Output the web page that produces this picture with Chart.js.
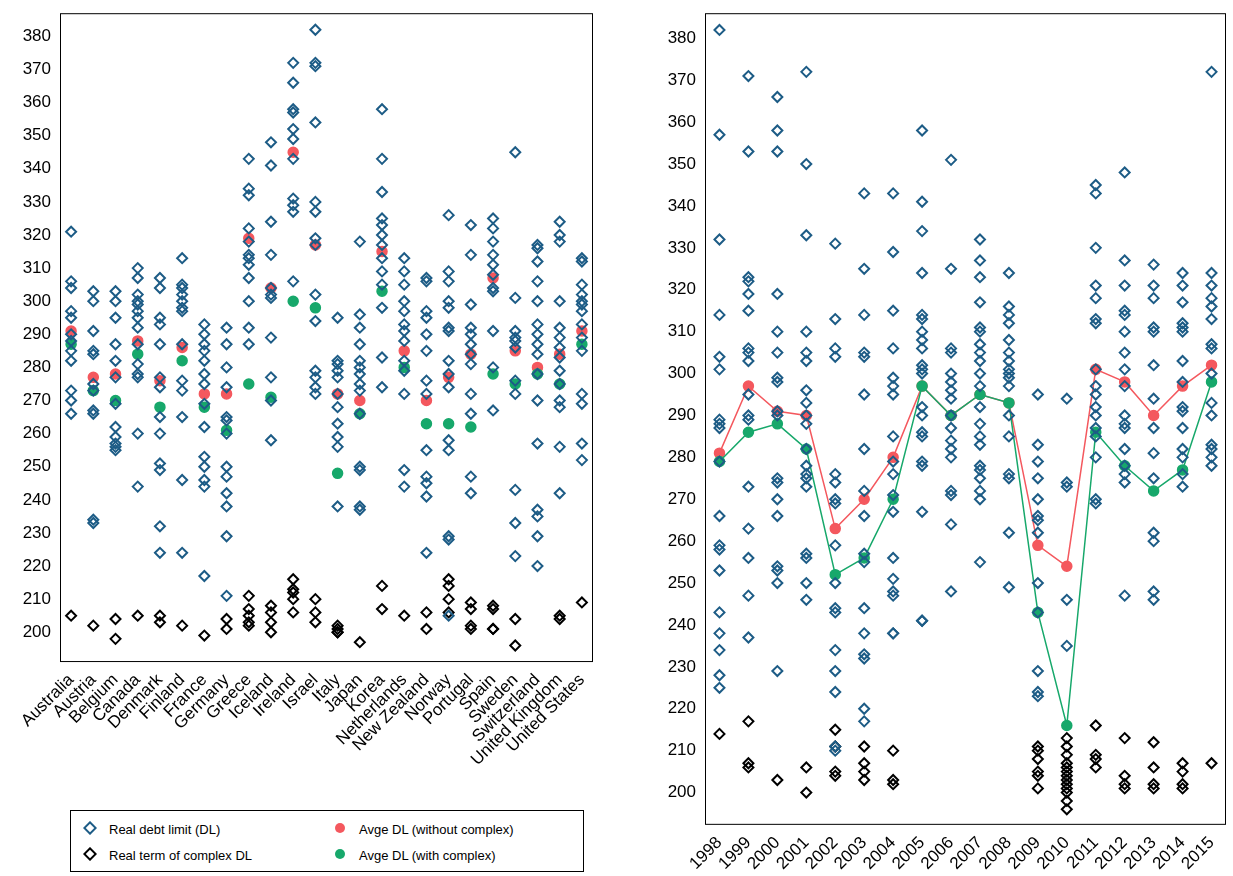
<!DOCTYPE html>
<html lang="en">
<head>
<meta charset="UTF-8">
<title>Debt limit by country and year</title>
<script src="https://cdn.jsdelivr.net/npm/chart.js"></script>
<style>
    body { margin: 0; background: #fff; font-family: "Liberation Sans", Arial, sans-serif; }
    #left { position: absolute; left: 0; top: 0; }
    #right { position: absolute; left: 655px; top: 0; }
    #legend {
        position: absolute; left: 70px; top: 810px; width: 514px; height: 62px;
        border: 1px solid #000; box-sizing: border-box; font-size: 13px;
    }
    .item { position: absolute; display: flex; align-items: center; }
    .item span.m { width: 22px; display: inline-block; text-align: center; margin-right: 8px; }
</style>
</head>
<body>
<canvas id="left" width="600" height="772"></canvas>
<canvas id="right" width="578" height="876"></canvas>
<div id="legend">
    <div class="item" style="left:8px;top:10px"><span class="m"><svg width="14" height="14"><rect x="3" y="3" width="8" height="8" transform="rotate(45 7 7)" fill="none" stroke="#1d5c86" stroke-width="2"/></svg></span>Real debt limit (DL)</div>
    <div class="item" style="left:8px;top:36px"><span class="m"><svg width="14" height="14"><rect x="3" y="3" width="8" height="8" transform="rotate(45 7 7)" fill="none" stroke="#000" stroke-width="2"/></svg></span>Real term of complex DL</div>
    <div class="item" style="left:258px;top:10px"><span class="m"><svg width="14" height="14"><circle cx="7" cy="7" r="5" fill="#f4585e"/></svg></span>Avge DL (without complex)</div>
    <div class="item" style="left:258px;top:36px"><span class="m"><svg width="14" height="14"><circle cx="7" cy="7" r="5" fill="#17a86b"/></svg></span>Avge DL (with complex)</div>
</div>
<script>
const countries = ['Australia','Austria','Belgium','Canada','Denmark','Finland','France','Germany','Greece','Iceland','Ireland','Israel','Italy','Japan','Korea','Netherlands','New Zealand','Norway','Portugal','Spain','Sweden','Switzerland','United Kingdom','United States'];
const countryDL = [
    [321,306,304,297,295,290,288,285,282,273,270,266],
    [303,300,291,285,284,275,273,267,266,234,233],
    [303,300,295,287,282,277,269,262,259,257,256,255],
    [310,307,302,300,299,297,295,292,287,281,278,277,260,244],
    [307,304,295,293,287,277,274,265,260,251,249,232,224],
    [313,305,304,302,300,298,297,287,276,273,265,246,224],
    [293,290,287,285,282,278,275,269,262,253,250,246,244,217],
    [292,287,280,274,265,264,260,250,247,242,238,229,211],
    [343,334,332,322,318,314,313,311,307,300,292,287],
    [348,341,324,314,304,302,301,289,277,270,258],
    [372,366,358,357,352,349,343,331,329,327,306],
    [382,372,371,354,330,327,319,317,302,294,279,277,274,272],
    [295,282,281,279,277,272,268,263,259,256,238],
    [318,296,292,287,282,280,278,275,273,266,250,249,238,237],
    [358,343,333,325,323,320,317,313,309,305,298,283,274],
    [313,309,305,300,297,293,291,288,282,279,272,249,244],
    [307,306,297,295,290,285,276,272,255,247,245,241,224],
    [326,309,306,300,298,292,291,282,278,274,258,255,229,228,205],
    [323,314,299,292,290,287,284,281,272,266,247,242],
    [325,322,318,314,311,308,304,303,291,280,267],
    [345,301,291,289,288,286,276,272,243,233,223],
    [317,316,312,306,300,293,290,287,284,278,270,257,237,235,229,220],
    [324,320,318,300,292,289,286,283,279,275,270,268,256,242],
    [313,312,305,302,300,299,297,293,289,285,272,269,257,252]
];
const countryComplex = [
    [205],[202],[204,198],[205],[205,203],[202],[199],[204,201],[211,207,205,203,202],
    [208,206,203,200],[216,213,212,210,206],[210,206,203],[202,201,200,200],[197],
    [214,207],[205],[206,201],[216,214,210,206],[209,207,202,201],[208,207,201,201],
    [204,196],[],[205,204],[209]
];
const countryAvg = [291,277,278,288,276,286,272,272,319,304,345,317,272,270,315,285,270,277,284,307,285,280,284,291];
const countryAvgComplex = [287,273,270,284,268,282,268,261,275,271,300,298,248,266,303,280,263,263,262,278,275,278,275,287];

const years = ['1998','1999','2000','2001','2002','2003','2004','2005','2006','2007','2008','2009','2010','2011','2012','2013','2014','2015'];
const yearDL = [
    [382,357,332,314,304,301,289,288,287,279,266,259,258,253,243,238,234,228,225],
    [371,353,323,322,319,315,306,305,303,295,290,289,273,263,256,247,237],
    [366,358,353,319,310,305,299,298,291,290,275,274,270,266,254,253,250,229],
    [372,350,333,310,305,303,296,293,290,288,282,278,276,275,273,257,256,250,246],
    [331,313,306,304,276,274,270,269,259,250,244,243,234,229,224,211,210],
    [343,325,314,305,304,295,282,272,266,257,255,244,238,233,232,220,217],
    [343,329,315,306,299,297,295,285,279,276,271,267,256,251,248,247,238,238],
    [358,341,334,324,314,313,310,308,306,302,301,300,292,290,286,285,279,278,267,241,241],
    [351,325,306,305,300,298,296,294,290,287,284,282,280,272,271,264,248],
    [332,327,323,317,311,310,307,305,303,300,297,292,288,285,283,278,277,275,272,270,255],
    [324,316,314,312,308,305,303,301,300,299,297,290,285,276,275,262,249],
    [295,283,279,275,270,266,265,262,250,243,229,224,223],
    [294,274,273,246,235],
    [345,343,330,321,318,313,312,301,297,295,292,290,287,285,280,270,269],
    [348,327,321,315,314,310,305,301,297,290,288,287,282,278,276,274,247],
    [326,321,318,311,310,302,294,287,281,275,262,260,248,246],
    [324,321,317,312,311,310,303,298,292,291,287,282,280,276,273],
    [372,324,321,318,316,313,307,306,300,293,290,283,282,280,278]
];
const yearComplex = [
    [214],[217,207,206],[203],[206,200],[215,211,205,204],[211,207,205,203],[210,203,202],[],[],[],[],
    [211,210,208,205,204,201],[213,211,209,207,206,205,204,203,202,201,200,198,196],
    [216,209,208,206],[213,204,202,201],[212,206,202,201],[207,205,202,201],[207]
];
const yearAvg = [281,297,291,290,263,270,280,297,290,295,293,259,254,301,298,290,297,302];
const yearAvgComplex = [279,286,288,282,252,256,270,297,290,295,293,243,216,286,278,272,277,298];

const BLUE = '#1d5c86', RED = '#f4585e', GREEN = '#17a86b';
Chart.defaults.font.family = '"Liberation Sans", Arial, sans-serif';
Chart.defaults.color = '#000';
Chart.defaults.animation = false;

function points(cats, groups) {
    const out = [];
    groups.forEach((g, i) => g.forEach(v => out.push({x: cats[i], y: v})));
    return out;
}
const boxPlugin = {
    id: 'box',
    afterDraw(c) {
        const a = c.chartArea, ctx = c.ctx;
        ctx.save(); ctx.strokeStyle = '#000'; ctx.lineWidth = 1;
        ctx.strokeRect(a.left + 0.5, a.top + 0.5, a.width - 1, a.height - 1);
        ctx.restore();
    }
};
function makeChart(id, cats, dl, cx, avg, avgc, yMin, yMax, yw, lines, pad) {
    const diamond = {pointStyle: 'rectRot', pointRadius: 5, pointBorderWidth: 2, backgroundColor: 'transparent', showLine: false};
    new Chart(document.getElementById(id), {
        type: 'line',
        data: {
            labels: cats,
            datasets: [
                Object.assign({data: points(cats, dl), borderColor: BLUE, pointBorderColor: BLUE}, diamond),
                Object.assign({data: points(cats, cx), borderColor: '#000', pointBorderColor: '#000'}, diamond),
                {data: avgc, showLine: lines, borderColor: GREEN, borderWidth: 1.5, pointBackgroundColor: GREEN, pointBorderColor: GREEN, pointRadius: 5},
                {data: avg, showLine: lines, borderColor: RED, borderWidth: 1.5, pointBackgroundColor: RED, pointBorderColor: RED, pointRadius: 5}
            ]
        },
        options: {
            responsive: false,
            layout: {padding: pad},
            plugins: {legend: {display: false}, tooltip: {enabled: false}},
            scales: {
                x: {
                    offset: true,
                    grid: {display: false, drawTicks: true, tickLength: 6, tickColor: '#000'},
                    border: {display: false},
                    ticks: {autoSkip: false, maxRotation: 45, minRotation: 45, font: {size: 17}, padding: 2}
                },
                y: {
                    min: yMin, max: yMax,
                    afterBuildTicks: s => { s.ticks = []; for (let v = 200; v <= 380; v += 10) s.ticks.push({value: v}); },
                    afterFit: s => { s.width = yw; },
                    grid: {display: false, drawTicks: true, tickLength: 6, tickColor: '#000'},
                    border: {display: false},
                    ticks: {font: {size: 17}, padding: 3}
                }
            }
        },
        plugins: [boxPlugin]
    });
}
makeChart('left', countries, countryDL, countryComplex, countryAvg, countryAvgComplex, 191, 387, 60, false, {top: 5, right: 3});
makeChart('right', years, yearDL, yearComplex, yearAvg, yearAvgComplex, 192.3, 386, 50, true, {top: 5, right: 5});
</script>
</body>
</html>
